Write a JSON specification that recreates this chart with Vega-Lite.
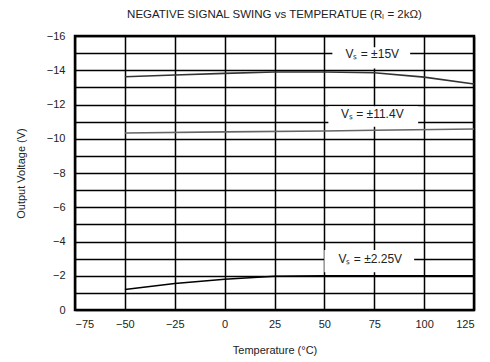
{
  "$schema": "https://vega.github.io/schema/vega-lite/v6.json",
  "width": 399,
  "height": 274,
  "autosize": {"type": "none"},
  "padding": {"left": 75, "top": 36, "right": 16, "bottom": 52},
  "background": "white",
  "config": {
    "font": "Liberation Sans",
    "view": {"stroke": "black", "strokeWidth": 2.5},
    "axis": {"labelFont": "Liberation Sans", "titleFont": "Liberation Sans", "labelFontSize": 11, "titleFontSize": 11, "labelColor": "#222", "titleColor": "#222", "titleFontWeight": "normal", "gridColor": "black", "gridOpacity": 1, "gridWidth": 1.5, "ticks": false, "domain": false, "labelOverlap": false}
  },
  "title": {"text": "NEGATIVE SIGNAL SWING vs TEMPERATUE (Rₗ = 2kΩ)", "fontSize": 11.5, "fontWeight": "normal", "color": "#222", "offset": 10, "font": "Liberation Sans"},
  "datasets": {
    "curves": [
      {"vs": "15", "t": -50, "v": -13.62}, {"vs": "15", "t": -25, "v": -13.72}, {"vs": "15", "t": 0, "v": -13.82}, {"vs": "15", "t": 25, "v": -13.9}, {"vs": "15", "t": 50, "v": -13.9}, {"vs": "15", "t": 75, "v": -13.85}, {"vs": "15", "t": 100, "v": -13.6}, {"vs": "15", "t": 125, "v": -13.2},
      {"vs": "11.4", "t": -50, "v": -10.34}, {"vs": "11.4", "t": 0, "v": -10.4}, {"vs": "11.4", "t": 50, "v": -10.45}, {"vs": "11.4", "t": 75, "v": -10.5}, {"vs": "11.4", "t": 125, "v": -10.57},
      {"vs": "2.25", "t": -50, "v": -1.2}, {"vs": "2.25", "t": -25, "v": -1.55}, {"vs": "2.25", "t": 0, "v": -1.8}, {"vs": "2.25", "t": 25, "v": -1.97}, {"vs": "2.25", "t": 50, "v": -2.0}, {"vs": "2.25", "t": 125, "v": -2.0}
    ],
    "labels": [
      {"label": "Vₛ = ±15V", "t": 74, "v": -14.95, "t1": 54, "t2": 93, "v1": -15.35, "v2": -14.1},
      {"label": "Vₛ = ±11.4V", "t": 74, "v": -11.45, "t1": 52, "t2": 97, "v1": -11.9, "v2": -10.7},
      {"label": "Vₛ = ±2.25V", "t": 73, "v": -3.0, "t1": 50, "t2": 95, "v1": -3.5, "v2": -2.2}
    ]
  },
  "layer": [
    {
      "data": {"name": "curves"},
      "mark": {"type": "line", "strokeWidth": 1.6},
      "encoding": {
        "x": {"field": "t", "type": "quantitative", "scale": {"domain": [-75, 125], "nice": false}, "axis": {"values": [-75, -50, -25, 0, 25, 50, 75, 100, 125], "title": "Temperature (°C)", "labelPadding": 8, "titlePadding": 15}},
        "y": {"field": "v", "type": "quantitative", "scale": {"domain": [0, -16], "nice": false}, "axis": {"values": [0, -1, -2, -3, -4, -5, -6, -7, -8, -9, -10, -11, -12, -13, -14, -15, -16], "labelExpr": "datum.value % 2 == 0 ? datum.label : ''", "title": "Output Voltage (V)", "labelPadding": 10, "titlePadding": 20}},
        "detail": {"field": "vs"},
        "color": {"field": "vs", "type": "nominal", "scale": {"domain": ["15", "11.4", "2.25"], "range": ["#333", "#666", "#000"]}, "legend": null}
      }
    },
    {
      "data": {"name": "labels"},
      "mark": {"type": "rect", "fill": "white", "stroke": null},
      "encoding": {
        "x": {"field": "t1", "type": "quantitative", "axis": {"values": [-75, -50, -25, 0, 25, 50, 75, 100, 125], "title": "Temperature (°C)", "labelPadding": 8, "titlePadding": 15}},
        "x2": {"field": "t2"},
        "y": {"field": "v1", "type": "quantitative", "axis": {"values": [0, -1, -2, -3, -4, -5, -6, -7, -8, -9, -10, -11, -12, -13, -14, -15, -16], "labelExpr": "datum.value % 2 == 0 ? datum.label : ''", "title": "Output Voltage (V)", "labelPadding": 10, "titlePadding": 20}},
        "y2": {"field": "v2"}
      }
    },
    {
      "data": {"name": "labels"},
      "mark": {"type": "text", "fontSize": 12, "color": "#222", "font": "Liberation Sans"},
      "encoding": {
        "x": {"field": "t", "type": "quantitative", "axis": {"values": [-75, -50, -25, 0, 25, 50, 75, 100, 125], "title": "Temperature (°C)", "labelPadding": 8, "titlePadding": 15}},
        "y": {"field": "v", "type": "quantitative", "axis": {"values": [0, -1, -2, -3, -4, -5, -6, -7, -8, -9, -10, -11, -12, -13, -14, -15, -16], "labelExpr": "datum.value % 2 == 0 ? datum.label : ''", "title": "Output Voltage (V)", "labelPadding": 10, "titlePadding": 20}},
        "text": {"field": "label"}
      }
    }
  ]
}
